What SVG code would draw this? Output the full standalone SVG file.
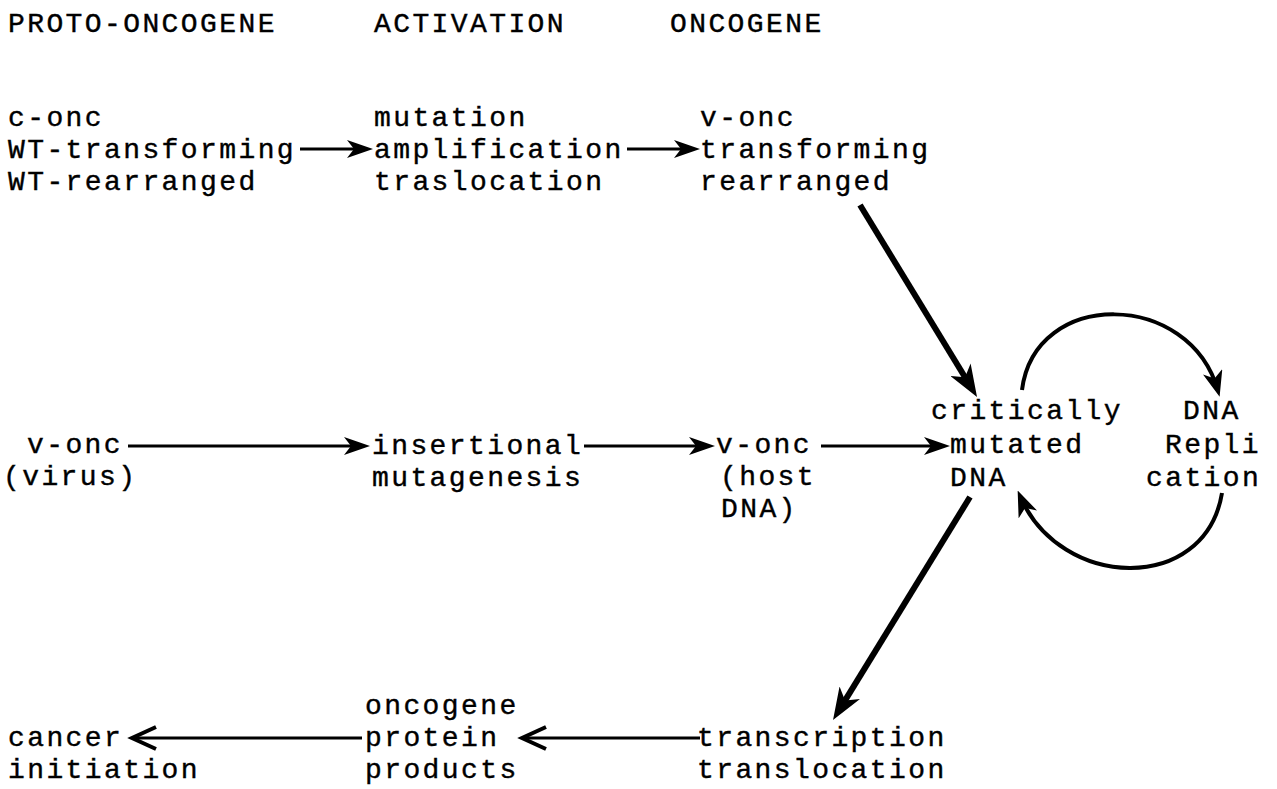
<svg xmlns="http://www.w3.org/2000/svg" width="1277" height="789" viewBox="0 0 1277 789">
<style>
.t{font-family:"Liberation Mono","Courier New",monospace;font-size:28px;letter-spacing:2.4px;fill:#000;stroke:#000;stroke-width:0.4}
.ln{fill:none;stroke:#000;stroke-linecap:butt}
.h{stroke-width:3}
.d{stroke-width:6}
.a{stroke-width:4}
</style>
<defs>
<marker id="ah" viewBox="0 0 26 18" refX="12" refY="9" markerWidth="26" markerHeight="18" markerUnits="userSpaceOnUse" orient="auto"><path d="M0,0 L26,9 L0,18 L7,9 Z" fill="#000"/></marker>
<marker id="ahd" viewBox="0 0 32 24" refX="16" refY="12" markerWidth="32" markerHeight="24" markerUnits="userSpaceOnUse" orient="auto"><path d="M0,0 L32,12 L0,24 L9,12 Z" fill="#000"/></marker>
<marker id="ahc" viewBox="0 0 26 20" refX="20" refY="10" markerWidth="26" markerHeight="20" markerUnits="userSpaceOnUse" orient="auto"><path d="M0,0 L26,10 L0,20 L7,10 Z" fill="#000"/></marker>
<marker id="ahl" viewBox="-3 -3 32 28" refX="24" refY="11" markerWidth="32" markerHeight="28" markerUnits="userSpaceOnUse" orient="auto"><path d="M0,0 L24,11 L0,22" fill="none" stroke="#000" stroke-width="4"/></marker>
</defs>
<rect width="1277" height="789" fill="#fff"/>
<g id="headers">
<text class="t" x="8" y="32">PROTO-ONCOGENE</text>
<text class="t" x="374" y="32">ACTIVATION</text>
<text class="t" x="670" y="32">ONCOGENE</text>
</g>
<g id="proto-oncogene">
<text class="t" x="8" y="126">c-onc</text>
<text class="t" x="8" y="158">WT-transforming</text>
<text class="t" x="8" y="190">WT-rearranged</text>
</g>
<g id="activation">
<text class="t" x="374" y="126">mutation</text>
<text class="t" x="374" y="158">amplification</text>
<text class="t" x="374" y="190">traslocation</text>
</g>
<g id="oncogene">
<text class="t" x="700" y="126">v-onc</text>
<text class="t" x="700" y="158">transforming</text>
<text class="t" x="700" y="190">rearranged</text>
</g>
<g id="v-onc-virus">
<text class="t" x="27" y="453">v-onc</text>
<text class="t" x="3" y="485">(virus)</text>
</g>
<g id="insertional">
<text class="t" x="372" y="454">insertional</text>
<text class="t" x="372" y="486">mutagenesis</text>
</g>
<g id="v-onc-host">
<text class="t" x="716" y="453">v-onc</text>
<text class="t" x="720" y="485">(host</text>
<text class="t" x="721" y="517">DNA)</text>
</g>
<g id="critically-mutated">
<text class="t" x="931" y="419">critically</text>
<text class="t" x="950" y="453">mutated</text>
<text class="t" x="950" y="486">DNA</text>
</g>
<g id="dna-replication">
<text class="t" x="1183" y="419">DNA</text>
<text class="t" x="1165" y="453">Repli</text>
<text class="t" x="1146" y="486">cation</text>
</g>
<g id="transcription">
<text class="t" x="697" y="746">transcription</text>
<text class="t" x="697" y="778">translocation</text>
</g>
<g id="protein-products">
<text class="t" x="365" y="714">oncogene</text>
<text class="t" x="365" y="746">protein</text>
<text class="t" x="365" y="778">products</text>
</g>
<g id="cancer-initiation">
<text class="t" x="8" y="746">cancer</text>
<text class="t" x="8" y="778">initiation</text>
</g>
<g id="connectors">
<path class="ln h" d="M300,149 H359" marker-end="url(#ah)"/>
<path class="ln h" d="M627,149 H686" marker-end="url(#ah)"/>
<path class="ln h" d="M128,446 H356" marker-end="url(#ah)"/>
<path class="ln h" d="M584,446 H701" marker-end="url(#ah)"/>
<path class="ln h" d="M821,446 H936" marker-end="url(#ah)"/>
<path class="ln d" d="M860,205 L968.7,383.3" marker-end="url(#ahd)"/>
<path class="ln d" d="M970,497 L841.4,706.4" marker-end="url(#ahd)"/>
<path class="ln h" d="M362,738 H132" marker-end="url(#ahl)"/>
<path class="ln h" d="M700,738 H522" marker-end="url(#ahl)"/>
<path class="ln a" d="M1022,390 C1035,288 1190,290 1218,391" marker-end="url(#ahc)"/>
<path class="ln a" d="M1222,493 C1205,595 1060,590 1020,496" marker-end="url(#ahc)"/>
</g>
</svg>
